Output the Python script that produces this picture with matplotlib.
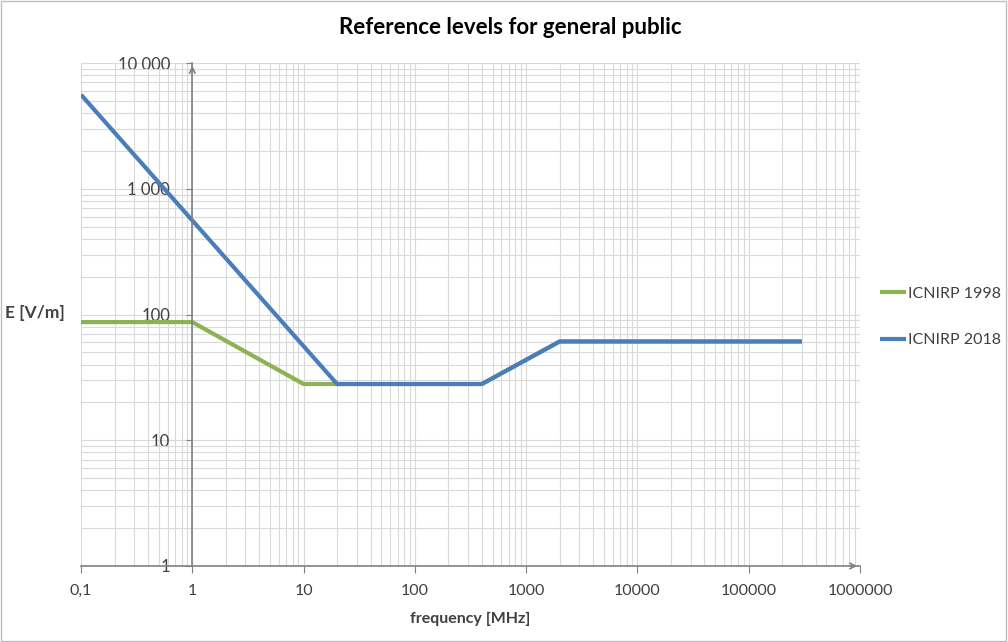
import matplotlib.pyplot as plt
from matplotlib.ticker import FixedLocator, LogLocator, NullFormatter
from matplotlib.patches import Rectangle

plt.rcParams['font.family'] = ['Lato', 'DejaVu Sans']

# data
freq_1998 = [0.1, 1, 10, 400, 2000, 300000]
e_1998 = [87, 87, 28, 28, 61, 61]
freq_2018 = [0.1, 20, 400, 2000, 300000]
e_2018 = [5600, 28, 28, 61, 61]

x_ticks = [0.1, 1, 10, 100, 1000, 10000, 100000, 1000000]
x_labels = ['0,1', '1', '10', '100', '1000', '10000', '100000', '1000000']
y_ticks = [1, 10, 100, 1000, 10000]
y_labels = ['1', '10', '100', '1 000', '10 000']

green = '#8db254'
blue = '#4a7ebb'
axis_grey = '#808080'
text_col = '#404040'

fig = plt.figure(figsize=(10.08, 6.42), dpi=100)
ax = fig.add_axes([81 / 1008, 76 / 642, 779 / 1008, 503 / 642])

ax.plot(freq_1998, e_1998, color=green, lw=3, label='ICNIRP 1998', solid_capstyle='butt')
ax.plot(freq_2018, e_2018, color=blue, lw=3, label='ICNIRP 2018', solid_capstyle='butt')

ax.set_xscale('log')
ax.set_yscale('log')
ax.set_xlim(0.1, 1000000)
ax.set_ylim(1, 10000)

ax.xaxis.set_major_locator(FixedLocator(x_ticks))
ax.set_xticklabels(x_labels)
ax.yaxis.set_major_locator(FixedLocator(y_ticks))
ax.set_yticklabels(y_labels)
ax.xaxis.set_minor_locator(LogLocator(base=10, subs=range(2, 10), numticks=20))
ax.yaxis.set_minor_locator(LogLocator(base=10, subs=range(2, 10), numticks=20))
ax.xaxis.set_minor_formatter(NullFormatter())
ax.yaxis.set_minor_formatter(NullFormatter())

ax.grid(True, which='both', color='#d9d9d9', lw=0.8)
ax.set_axisbelow(True)

for s in ['top', 'right']:
    ax.spines[s].set_visible(False)
ax.spines['left'].set_position(('data', 1))
ax.spines['left'].set_color(axis_grey)
ax.spines['bottom'].set_color(axis_grey)
ax.spines['left'].set_linewidth(1.2)
ax.spines['bottom'].set_linewidth(1.2)

ax.tick_params(axis='x', which='major', direction='out', length=5, color=axis_grey,
               labelsize=11.5, labelcolor=text_col, pad=8)
ax.tick_params(axis='y', which='major', direction='out', length=4, color=axis_grey,
               labelsize=12, labelcolor=text_col, pad=12)
ax.tick_params(which='minor', length=0)

# small arrow heads at the axis ends
ax.annotate('', xy=(1, 1.0), xycoords=('data', 'axes fraction'),
            xytext=(1, 0.98), textcoords=('data', 'axes fraction'),
            arrowprops=dict(arrowstyle='->', color=axis_grey, lw=1.2))
ax.annotate('', xy=(1.0, 0), xycoords='axes fraction',
            xytext=(0.985, 0), textcoords='axes fraction',
            arrowprops=dict(arrowstyle='->', color=axis_grey, lw=1.2))

fig.text(510 / 1008, 1 - 27 / 642, 'Reference levels for general public', fontsize=16,
         fontweight='bold', color='black', ha='center', va='center')
ax.set_xlabel('frequency [MHz]', fontsize=11.5, fontweight='bold', color=text_col, labelpad=10)
fig.text(5 / 1008, 1 - 313 / 642, 'E [V/m]', fontsize=12.5, fontweight='bold',
         color=text_col, va='center', ha='left')

ax.legend(loc='center left', bbox_to_anchor=(880 / 1008, 1 - 317 / 642),
          bbox_transform=fig.transFigure, frameon=False, fontsize=11.5,
          borderpad=0, borderaxespad=0,
          handlelength=1.65, handletextpad=0.1, labelspacing=2.0,
          labelcolor=text_col)

fig.patches.append(Rectangle((0.001, 0.002), 0.997, 0.996, transform=fig.transFigure,
                             fill=False, edgecolor='#bfbfbf', lw=1))

fig.savefig('out.png', dpi=100)
